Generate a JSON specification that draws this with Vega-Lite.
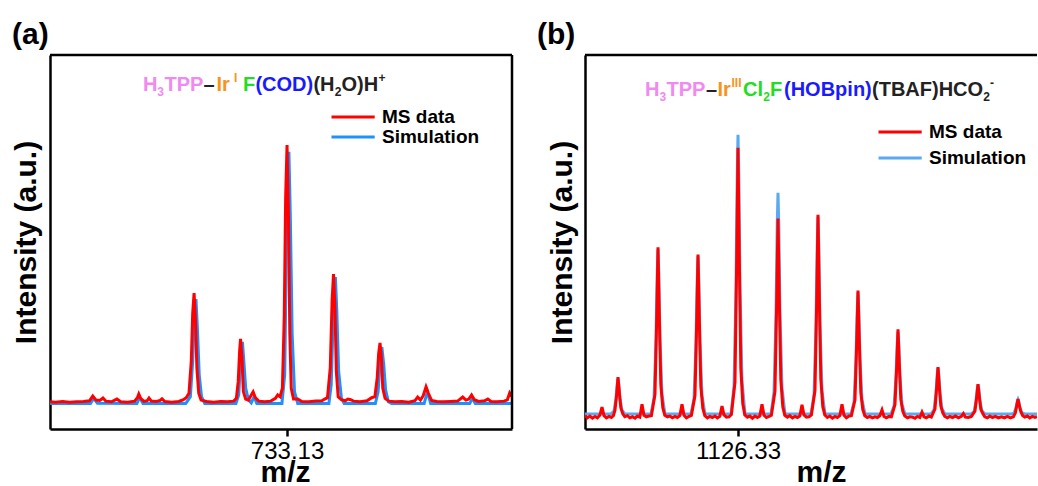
{
"$schema": "https://vega.github.io/schema/vega-lite/v6.json",
"background": "white",
"padding": {"left": 11, "top": 19, "right": 0, "bottom": 0},
"config": {
  "font": "Liberation Sans",
  "view": {"stroke": null},
  "axis": {"domainColor": "black", "domainWidth": 2.5, "grid": false, "tickColor": "black", "labelColor": "black", "titleColor": "black"}
},
"datasets": {
  "one": [{}],
  "a_ms": [
    {"mz":728.03,"intensity":0.0,"series":"MS data"},{"mz":728.15,"intensity":-0.1,"series":"MS data"},{"mz":728.30,"intensity":0.1,"series":"MS data"},{"mz":728.45,"intensity":-0.1,"series":"MS data"},{"mz":728.60,"intensity":0.0,"series":"MS data"},{"mz":728.75,"intensity":0.1,"series":"MS data"},{"mz":728.88,"intensity":0.3,"series":"MS data"},{"mz":728.95,"intensity":1.7,"series":"MS data"},{"mz":729.02,"intensity":0.5,"series":"MS data"},{"mz":729.10,"intensity":0.4,"series":"MS data"},{"mz":729.17,"intensity":1.1,"series":"MS data"},{"mz":729.23,"intensity":0.2,"series":"MS data"},{"mz":729.35,"intensity":0.0,"series":"MS data"},{"mz":729.47,"intensity":0.8,"series":"MS data"},{"mz":729.55,"intensity":0.0,"series":"MS data"},{"mz":729.70,"intensity":-0.1,"series":"MS data"},{"mz":729.85,"intensity":0.2,"series":"MS data"},{"mz":729.91,"intensity":1.2,"series":"MS data"},{"mz":729.94,"intensity":2.3,"series":"MS data"},{"mz":729.98,"intensity":1.0,"series":"MS data"},{"mz":730.05,"intensity":0.1,"series":"MS data"},{"mz":730.12,"intensity":0.3,"series":"MS data"},{"mz":730.16,"intensity":1.1,"series":"MS data"},{"mz":730.21,"intensity":0.2,"series":"MS data"},{"mz":730.32,"intensity":0.1,"series":"MS data"},{"mz":730.40,"intensity":0.4,"series":"MS data"},{"mz":730.44,"intensity":0.9,"series":"MS data"},{"mz":730.50,"intensity":0.1,"series":"MS data"},{"mz":730.65,"intensity":-0.1,"series":"MS data"},{"mz":730.80,"intensity":0.1,"series":"MS data"},{"mz":730.90,"intensity":0.6,"series":"MS data"},{"mz":730.96,"intensity":1.2,"series":"MS data"},{"mz":731.02,"intensity":2.5,"series":"MS data"},{"mz":731.07,"intensity":12,"series":"MS data"},{"mz":731.10,"intensity":26,"series":"MS data"},{"mz":731.13,"intensity":32,"series":"MS data"},{"mz":731.16,"intensity":24,"series":"MS data"},{"mz":731.19,"intensity":10,"series":"MS data"},{"mz":731.23,"intensity":2.5,"series":"MS data"},{"mz":731.28,"intensity":0.5,"series":"MS data"},{"mz":731.40,"intensity":0.1,"series":"MS data"},{"mz":731.55,"intensity":-0.1,"series":"MS data"},{"mz":731.70,"intensity":0.1,"series":"MS data"},{"mz":731.85,"intensity":0.0,"series":"MS data"},{"mz":731.98,"intensity":0.2,"series":"MS data"},{"mz":732.04,"intensity":1.0,"series":"MS data"},{"mz":732.08,"intensity":6,"series":"MS data"},{"mz":732.11,"intensity":15,"series":"MS data"},{"mz":732.13,"intensity":18.5,"series":"MS data"},{"mz":732.16,"intensity":13,"series":"MS data"},{"mz":732.19,"intensity":3,"series":"MS data"},{"mz":732.24,"intensity":0.8,"series":"MS data"},{"mz":732.30,"intensity":0.5,"series":"MS data"},{"mz":732.36,"intensity":2.0,"series":"MS data"},{"mz":732.40,"intensity":2.9,"series":"MS data"},{"mz":732.45,"intensity":1.2,"series":"MS data"},{"mz":732.52,"intensity":0.2,"series":"MS data"},{"mz":732.65,"intensity":0.0,"series":"MS data"},{"mz":732.78,"intensity":0.2,"series":"MS data"},{"mz":732.88,"intensity":1.0,"series":"MS data"},{"mz":732.93,"intensity":2.0,"series":"MS data"},{"mz":732.98,"intensity":1.5,"series":"MS data"},{"mz":733.03,"intensity":4,"series":"MS data"},{"mz":733.07,"intensity":25,"series":"MS data"},{"mz":733.10,"intensity":60,"series":"MS data"},{"mz":733.13,"intensity":75.5,"series":"MS data"},{"mz":733.16,"intensity":55,"series":"MS data"},{"mz":733.19,"intensity":20,"series":"MS data"},{"mz":733.22,"intensity":4,"series":"MS data"},{"mz":733.27,"intensity":0.8,"series":"MS data"},{"mz":733.36,"intensity":0.8,"series":"MS data"},{"mz":733.45,"intensity":0.1,"series":"MS data"},{"mz":733.60,"intensity":0.0,"series":"MS data"},{"mz":733.75,"intensity":0.2,"series":"MS data"},{"mz":733.88,"intensity":0.3,"series":"MS data"},{"mz":733.94,"intensity":0.8,"series":"MS data"},{"mz":734.00,"intensity":1.2,"series":"MS data"},{"mz":734.06,"intensity":10,"series":"MS data"},{"mz":734.10,"intensity":30,"series":"MS data"},{"mz":734.13,"intensity":37.6,"series":"MS data"},{"mz":734.16,"intensity":28,"series":"MS data"},{"mz":734.19,"intensity":9,"series":"MS data"},{"mz":734.23,"intensity":1.5,"series":"MS data"},{"mz":734.30,"intensity":0.6,"series":"MS data"},{"mz":734.38,"intensity":0.3,"series":"MS data"},{"mz":734.44,"intensity":0.8,"series":"MS data"},{"mz":734.50,"intensity":0.6,"series":"MS data"},{"mz":734.56,"intensity":0.2,"series":"MS data"},{"mz":734.70,"intensity":0.0,"series":"MS data"},{"mz":734.85,"intensity":0.3,"series":"MS data"},{"mz":734.95,"intensity":1.2,"series":"MS data"},{"mz":735.02,"intensity":1.5,"series":"MS data"},{"mz":735.07,"intensity":7,"series":"MS data"},{"mz":735.10,"intensity":14,"series":"MS data"},{"mz":735.13,"intensity":17.3,"series":"MS data"},{"mz":735.16,"intensity":13,"series":"MS data"},{"mz":735.19,"intensity":4,"series":"MS data"},{"mz":735.24,"intensity":1.0,"series":"MS data"},{"mz":735.32,"intensity":0.2,"series":"MS data"},{"mz":735.45,"intensity":0.0,"series":"MS data"},{"mz":735.60,"intensity":0.1,"series":"MS data"},{"mz":735.75,"intensity":-0.1,"series":"MS data"},{"mz":735.88,"intensity":0.3,"series":"MS data"},{"mz":735.94,"intensity":1.4,"series":"MS data"},{"mz":736.00,"intensity":0.5,"series":"MS data"},{"mz":736.06,"intensity":1.8,"series":"MS data"},{"mz":736.12,"intensity":4.4,"series":"MS data"},{"mz":736.17,"intensity":2.5,"series":"MS data"},{"mz":736.24,"intensity":0.4,"series":"MS data"},{"mz":736.35,"intensity":0.1,"series":"MS data"},{"mz":736.50,"intensity":0.0,"series":"MS data"},{"mz":736.65,"intensity":0.1,"series":"MS data"},{"mz":736.80,"intensity":0.2,"series":"MS data"},{"mz":736.91,"intensity":1.4,"series":"MS data"},{"mz":736.98,"intensity":0.5,"series":"MS data"},{"mz":737.04,"intensity":0.8,"series":"MS data"},{"mz":737.10,"intensity":2.0,"series":"MS data"},{"mz":737.16,"intensity":0.6,"series":"MS data"},{"mz":737.25,"intensity":0.1,"series":"MS data"},{"mz":737.38,"intensity":0.3,"series":"MS data"},{"mz":737.45,"intensity":0.8,"series":"MS data"},{"mz":737.52,"intensity":0.1,"series":"MS data"},{"mz":737.65,"intensity":0.0,"series":"MS data"},{"mz":737.80,"intensity":0.2,"series":"MS data"},{"mz":737.87,"intensity":0.6,"series":"MS data"},{"mz":737.92,"intensity":2.6,"series":"MS data"},{"mz":737.97,"intensity":1.5,"series":"MS data"}
  ],
  "a_sim": [
    {"mz":728.03,"intensity":-0.5,"series":"Simulation"},{"mz":728.90,"intensity":-0.5,"series":"Simulation"},{"mz":728.97,"intensity":1.0,"series":"Simulation"},{"mz":729.05,"intensity":-0.4,"series":"Simulation"},{"mz":729.90,"intensity":-0.5,"series":"Simulation"},{"mz":729.96,"intensity":1.3,"series":"Simulation"},{"mz":730.03,"intensity":-0.5,"series":"Simulation"},{"mz":730.95,"intensity":-0.5,"series":"Simulation"},{"mz":731.05,"intensity":1.5,"series":"Simulation"},{"mz":731.10,"intensity":12,"series":"Simulation"},{"mz":731.14,"intensity":26,"series":"Simulation"},{"mz":731.17,"intensity":30.2,"series":"Simulation"},{"mz":731.20,"intensity":22,"series":"Simulation"},{"mz":731.24,"intensity":8,"series":"Simulation"},{"mz":731.29,"intensity":1.5,"series":"Simulation"},{"mz":731.36,"intensity":-0.5,"series":"Simulation"},{"mz":732.03,"intensity":-0.5,"series":"Simulation"},{"mz":732.09,"intensity":2,"series":"Simulation"},{"mz":732.13,"intensity":12,"series":"Simulation"},{"mz":732.17,"intensity":17.6,"series":"Simulation"},{"mz":732.20,"intensity":12,"series":"Simulation"},{"mz":732.24,"intensity":4,"series":"Simulation"},{"mz":732.30,"intensity":0.5,"series":"Simulation"},{"mz":732.36,"intensity":-0.3,"series":"Simulation"},{"mz":732.42,"intensity":1.5,"series":"Simulation"},{"mz":732.48,"intensity":-0.5,"series":"Simulation"},{"mz":733.02,"intensity":-0.5,"series":"Simulation"},{"mz":733.08,"intensity":8,"series":"Simulation"},{"mz":733.12,"intensity":50,"series":"Simulation"},{"mz":733.15,"intensity":70,"series":"Simulation"},{"mz":733.17,"intensity":73.5,"series":"Simulation"},{"mz":733.20,"intensity":55,"series":"Simulation"},{"mz":733.24,"intensity":20,"series":"Simulation"},{"mz":733.29,"intensity":3,"series":"Simulation"},{"mz":733.36,"intensity":-0.5,"series":"Simulation"},{"mz":734.03,"intensity":-0.5,"series":"Simulation"},{"mz":734.08,"intensity":5,"series":"Simulation"},{"mz":734.13,"intensity":28,"series":"Simulation"},{"mz":734.17,"intensity":36.7,"series":"Simulation"},{"mz":734.20,"intensity":27,"series":"Simulation"},{"mz":734.24,"intensity":9,"series":"Simulation"},{"mz":734.30,"intensity":1,"series":"Simulation"},{"mz":734.36,"intensity":-0.5,"series":"Simulation"},{"mz":735.03,"intensity":-0.5,"series":"Simulation"},{"mz":735.09,"intensity":3,"series":"Simulation"},{"mz":735.14,"intensity":13,"series":"Simulation"},{"mz":735.17,"intensity":16.1,"series":"Simulation"},{"mz":735.21,"intensity":11,"series":"Simulation"},{"mz":735.25,"intensity":3.5,"series":"Simulation"},{"mz":735.31,"intensity":0,"series":"Simulation"},{"mz":735.38,"intensity":-0.5,"series":"Simulation"},{"mz":736.08,"intensity":-0.5,"series":"Simulation"},{"mz":736.15,"intensity":3.0,"series":"Simulation"},{"mz":736.22,"intensity":-0.5,"series":"Simulation"},{"mz":737.06,"intensity":-0.5,"series":"Simulation"},{"mz":737.12,"intensity":1.0,"series":"Simulation"},{"mz":737.18,"intensity":-0.5,"series":"Simulation"},{"mz":737.97,"intensity":-0.5,"series":"Simulation"}
  ],
  "b_ms": [
    {"mz":1118.68,"intensity":-0.3,"series":"MS data"},{"mz":1118.80,"intensity":-0.9,"series":"MS data"},{"mz":1118.92,"intensity":-0.4,"series":"MS data"},{"mz":1119.05,"intensity":-1.0,"series":"MS data"},{"mz":1119.18,"intensity":-0.5,"series":"MS data"},{"mz":1119.30,"intensity":-0.9,"series":"MS data"},{"mz":1119.42,"intensity":-0.2,"series":"MS data"},{"mz":1119.53,"intensity":2.1,"series":"MS data"},{"mz":1119.63,"intensity":-0.3,"series":"MS data"},{"mz":1119.75,"intensity":-0.9,"series":"MS data"},{"mz":1119.88,"intensity":-0.5,"series":"MS data"},{"mz":1120.00,"intensity":-0.8,"series":"MS data"},{"mz":1120.10,"intensity":-0.3,"series":"MS data"},{"mz":1120.18,"intensity":1.2,"series":"MS data"},{"mz":1120.27,"intensity":6.0,"series":"MS data"},{"mz":1120.33,"intensity":10.4,"series":"MS data"},{"mz":1120.39,"intensity":6.5,"series":"MS data"},{"mz":1120.47,"intensity":1.9,"series":"MS data"},{"mz":1120.57,"intensity":0.2,"series":"MS data"},{"mz":1120.67,"intensity":-0.6,"series":"MS data"},{"mz":1120.80,"intensity":-0.3,"series":"MS data"},{"mz":1120.92,"intensity":-0.9,"series":"MS data"},{"mz":1121.05,"intensity":-0.6,"series":"MS data"},{"mz":1121.18,"intensity":-1.0,"series":"MS data"},{"mz":1121.30,"intensity":-0.4,"series":"MS data"},{"mz":1121.42,"intensity":-0.7,"series":"MS data"},{"mz":1121.53,"intensity":2.9,"series":"MS data"},{"mz":1121.63,"intensity":-0.2,"series":"MS data"},{"mz":1121.75,"intensity":-0.6,"series":"MS data"},{"mz":1121.88,"intensity":-0.4,"series":"MS data"},{"mz":1122.00,"intensity":-0.3,"series":"MS data"},{"mz":1122.18,"intensity":5.6,"series":"MS data"},{"mz":1122.27,"intensity":28,"series":"MS data"},{"mz":1122.33,"intensity":46.5,"series":"MS data"},{"mz":1122.39,"intensity":29,"series":"MS data"},{"mz":1122.47,"intensity":8.4,"series":"MS data"},{"mz":1122.57,"intensity":1.9,"series":"MS data"},{"mz":1122.67,"intensity":-0.2,"series":"MS data"},{"mz":1122.80,"intensity":-0.6,"series":"MS data"},{"mz":1122.92,"intensity":-0.4,"series":"MS data"},{"mz":1123.05,"intensity":-0.9,"series":"MS data"},{"mz":1123.18,"intensity":-0.5,"series":"MS data"},{"mz":1123.30,"intensity":-0.8,"series":"MS data"},{"mz":1123.42,"intensity":-0.3,"series":"MS data"},{"mz":1123.53,"intensity":2.9,"series":"MS data"},{"mz":1123.63,"intensity":-0.2,"series":"MS data"},{"mz":1123.75,"intensity":-0.9,"series":"MS data"},{"mz":1123.88,"intensity":-0.5,"series":"MS data"},{"mz":1124.00,"intensity":-0.2,"series":"MS data"},{"mz":1124.18,"intensity":5.3,"series":"MS data"},{"mz":1124.27,"intensity":27,"series":"MS data"},{"mz":1124.33,"intensity":44.5,"series":"MS data"},{"mz":1124.39,"intensity":28,"series":"MS data"},{"mz":1124.47,"intensity":8,"series":"MS data"},{"mz":1124.57,"intensity":1.8,"series":"MS data"},{"mz":1124.67,"intensity":-0.3,"series":"MS data"},{"mz":1124.80,"intensity":-0.9,"series":"MS data"},{"mz":1124.92,"intensity":-0.5,"series":"MS data"},{"mz":1125.05,"intensity":-0.8,"series":"MS data"},{"mz":1125.18,"intensity":-0.4,"series":"MS data"},{"mz":1125.30,"intensity":-0.9,"series":"MS data"},{"mz":1125.42,"intensity":-0.5,"series":"MS data"},{"mz":1125.53,"intensity":2.4,"series":"MS data"},{"mz":1125.63,"intensity":-0.1,"series":"MS data"},{"mz":1125.75,"intensity":-0.7,"series":"MS data"},{"mz":1125.88,"intensity":-0.6,"series":"MS data"},{"mz":1126.00,"intensity":0.0,"series":"MS data"},{"mz":1126.18,"intensity":9,"series":"MS data"},{"mz":1126.27,"intensity":45,"series":"MS data"},{"mz":1126.33,"intensity":74.2,"series":"MS data"},{"mz":1126.39,"intensity":46,"series":"MS data"},{"mz":1126.47,"intensity":13,"series":"MS data"},{"mz":1126.57,"intensity":3,"series":"MS data"},{"mz":1126.67,"intensity":-0.1,"series":"MS data"},{"mz":1126.80,"intensity":-0.7,"series":"MS data"},{"mz":1126.92,"intensity":-0.4,"series":"MS data"},{"mz":1127.05,"intensity":-1.0,"series":"MS data"},{"mz":1127.18,"intensity":-0.4,"series":"MS data"},{"mz":1127.30,"intensity":-0.8,"series":"MS data"},{"mz":1127.42,"intensity":-0.4,"series":"MS data"},{"mz":1127.53,"intensity":2.9,"series":"MS data"},{"mz":1127.63,"intensity":-0.2,"series":"MS data"},{"mz":1127.75,"intensity":-0.8,"series":"MS data"},{"mz":1127.88,"intensity":-0.5,"series":"MS data"},{"mz":1128.00,"intensity":-0.2,"series":"MS data"},{"mz":1128.18,"intensity":6.5,"series":"MS data"},{"mz":1128.27,"intensity":33,"series":"MS data"},{"mz":1128.33,"intensity":54.5,"series":"MS data"},{"mz":1128.39,"intensity":34,"series":"MS data"},{"mz":1128.47,"intensity":9.8,"series":"MS data"},{"mz":1128.57,"intensity":2.2,"series":"MS data"},{"mz":1128.67,"intensity":-0.2,"series":"MS data"},{"mz":1128.80,"intensity":-0.7,"series":"MS data"},{"mz":1128.92,"intensity":-0.3,"series":"MS data"},{"mz":1129.05,"intensity":-0.9,"series":"MS data"},{"mz":1129.18,"intensity":-0.5,"series":"MS data"},{"mz":1129.30,"intensity":-0.8,"series":"MS data"},{"mz":1129.42,"intensity":-0.4,"series":"MS data"},{"mz":1129.53,"intensity":2.7,"series":"MS data"},{"mz":1129.63,"intensity":-0.1,"series":"MS data"},{"mz":1129.75,"intensity":-0.7,"series":"MS data"},{"mz":1129.88,"intensity":-0.6,"series":"MS data"},{"mz":1130.00,"intensity":-0.1,"series":"MS data"},{"mz":1130.18,"intensity":6.7,"series":"MS data"},{"mz":1130.27,"intensity":33,"series":"MS data"},{"mz":1130.33,"intensity":55.6,"series":"MS data"},{"mz":1130.39,"intensity":34.5,"series":"MS data"},{"mz":1130.47,"intensity":10,"series":"MS data"},{"mz":1130.57,"intensity":2.2,"series":"MS data"},{"mz":1130.67,"intensity":-0.1,"series":"MS data"},{"mz":1130.80,"intensity":-0.8,"series":"MS data"},{"mz":1130.92,"intensity":-0.4,"series":"MS data"},{"mz":1131.05,"intensity":-1.0,"series":"MS data"},{"mz":1131.18,"intensity":-0.5,"series":"MS data"},{"mz":1131.30,"intensity":-0.8,"series":"MS data"},{"mz":1131.42,"intensity":-0.3,"series":"MS data"},{"mz":1131.53,"intensity":2.9,"series":"MS data"},{"mz":1131.63,"intensity":-0.2,"series":"MS data"},{"mz":1131.75,"intensity":-0.9,"series":"MS data"},{"mz":1131.88,"intensity":-0.4,"series":"MS data"},{"mz":1132.00,"intensity":-0.3,"series":"MS data"},{"mz":1132.18,"intensity":4.1,"series":"MS data"},{"mz":1132.27,"intensity":21,"series":"MS data"},{"mz":1132.33,"intensity":34.5,"series":"MS data"},{"mz":1132.39,"intensity":21.4,"series":"MS data"},{"mz":1132.47,"intensity":6.2,"series":"MS data"},{"mz":1132.57,"intensity":1.4,"series":"MS data"},{"mz":1132.67,"intensity":-0.3,"series":"MS data"},{"mz":1132.80,"intensity":-0.8,"series":"MS data"},{"mz":1132.92,"intensity":-0.5,"series":"MS data"},{"mz":1133.05,"intensity":-0.9,"series":"MS data"},{"mz":1133.18,"intensity":-0.6,"series":"MS data"},{"mz":1133.30,"intensity":-0.8,"series":"MS data"},{"mz":1133.42,"intensity":-0.3,"series":"MS data"},{"mz":1133.53,"intensity":1.3,"series":"MS data"},{"mz":1133.63,"intensity":-0.5,"series":"MS data"},{"mz":1133.75,"intensity":-0.9,"series":"MS data"},{"mz":1133.88,"intensity":-0.5,"series":"MS data"},{"mz":1134.00,"intensity":-0.6,"series":"MS data"},{"mz":1134.18,"intensity":2.8,"series":"MS data"},{"mz":1134.27,"intensity":14,"series":"MS data"},{"mz":1134.33,"intensity":23.7,"series":"MS data"},{"mz":1134.39,"intensity":14.7,"series":"MS data"},{"mz":1134.47,"intensity":4.3,"series":"MS data"},{"mz":1134.57,"intensity":0.9,"series":"MS data"},{"mz":1134.67,"intensity":-0.4,"series":"MS data"},{"mz":1134.80,"intensity":-0.9,"series":"MS data"},{"mz":1134.92,"intensity":-0.6,"series":"MS data"},{"mz":1135.05,"intensity":-0.7,"series":"MS data"},{"mz":1135.18,"intensity":-1.0,"series":"MS data"},{"mz":1135.30,"intensity":-0.5,"series":"MS data"},{"mz":1135.42,"intensity":-0.8,"series":"MS data"},{"mz":1135.53,"intensity":0.7,"series":"MS data"},{"mz":1135.63,"intensity":-0.6,"series":"MS data"},{"mz":1135.75,"intensity":-0.9,"series":"MS data"},{"mz":1135.88,"intensity":-0.4,"series":"MS data"},{"mz":1136.00,"intensity":-0.7,"series":"MS data"},{"mz":1136.18,"intensity":1.6,"series":"MS data"},{"mz":1136.27,"intensity":8,"series":"MS data"},{"mz":1136.33,"intensity":13.2,"series":"MS data"},{"mz":1136.39,"intensity":8.2,"series":"MS data"},{"mz":1136.47,"intensity":2.4,"series":"MS data"},{"mz":1136.57,"intensity":0.5,"series":"MS data"},{"mz":1136.67,"intensity":-0.5,"series":"MS data"},{"mz":1136.80,"intensity":-0.9,"series":"MS data"},{"mz":1136.92,"intensity":-0.5,"series":"MS data"},{"mz":1137.05,"intensity":-0.8,"series":"MS data"},{"mz":1137.20,"intensity":-0.4,"series":"MS data"},{"mz":1137.35,"intensity":-0.9,"series":"MS data"},{"mz":1137.50,"intensity":-0.5,"series":"MS data"},{"mz":1137.60,"intensity":0.3,"series":"MS data"},{"mz":1137.70,"intensity":-0.7,"series":"MS data"},{"mz":1137.85,"intensity":-0.8,"series":"MS data"},{"mz":1138.00,"intensity":-0.5,"series":"MS data"},{"mz":1138.18,"intensity":1.0,"series":"MS data"},{"mz":1138.27,"intensity":5.1,"series":"MS data"},{"mz":1138.33,"intensity":8.5,"series":"MS data"},{"mz":1138.39,"intensity":5.3,"series":"MS data"},{"mz":1138.47,"intensity":1.5,"series":"MS data"},{"mz":1138.57,"intensity":0.3,"series":"MS data"},{"mz":1138.67,"intensity":-0.6,"series":"MS data"},{"mz":1138.80,"intensity":-0.9,"series":"MS data"},{"mz":1138.92,"intensity":-0.4,"series":"MS data"},{"mz":1139.05,"intensity":-0.8,"series":"MS data"},{"mz":1139.20,"intensity":-0.5,"series":"MS data"},{"mz":1139.35,"intensity":-0.9,"series":"MS data"},{"mz":1139.50,"intensity":-0.6,"series":"MS data"},{"mz":1139.65,"intensity":-0.9,"series":"MS data"},{"mz":1139.80,"intensity":-0.5,"series":"MS data"},{"mz":1139.95,"intensity":-0.9,"series":"MS data"},{"mz":1140.10,"intensity":-0.6,"series":"MS data"},{"mz":1140.20,"intensity":0.5,"series":"MS data"},{"mz":1140.27,"intensity":2.6,"series":"MS data"},{"mz":1140.33,"intensity":4.3,"series":"MS data"},{"mz":1140.39,"intensity":2.7,"series":"MS data"},{"mz":1140.47,"intensity":0.8,"series":"MS data"},{"mz":1140.57,"intensity":-0.3,"series":"MS data"},{"mz":1140.67,"intensity":-0.7,"series":"MS data"},{"mz":1140.80,"intensity":-0.4,"series":"MS data"},{"mz":1140.92,"intensity":-0.9,"series":"MS data"},{"mz":1141.05,"intensity":-0.5,"series":"MS data"},{"mz":1141.18,"intensity":-0.8,"series":"MS data"},{"mz":1141.28,"intensity":-0.6,"series":"MS data"}
  ],
  "b_sim": [
    {"mz":1118.68,"intensity":0.2,"series":"Simulation"},
    {"mz":1119.98,"intensity":0.2,"series":"Simulation"},{"mz":1120.13,"intensity":1.0,"series":"Simulation"},{"mz":1120.23,"intensity":4.5,"series":"Simulation"},{"mz":1120.29,"intensity":8.5,"series":"Simulation"},{"mz":1120.33,"intensity":10,"series":"Simulation"},{"mz":1120.37,"intensity":8.5,"series":"Simulation"},{"mz":1120.43,"intensity":4.5,"series":"Simulation"},{"mz":1120.53,"intensity":1.2,"series":"Simulation"},{"mz":1120.68,"intensity":0.2,"series":"Simulation"},
    {"mz":1121.98,"intensity":0.2,"series":"Simulation"},{"mz":1122.13,"intensity":4.6,"series":"Simulation"},{"mz":1122.23,"intensity":20.7,"series":"Simulation"},{"mz":1122.29,"intensity":39.1,"series":"Simulation"},{"mz":1122.33,"intensity":46,"series":"Simulation"},{"mz":1122.37,"intensity":39.1,"series":"Simulation"},{"mz":1122.43,"intensity":20.7,"series":"Simulation"},{"mz":1122.53,"intensity":5.5,"series":"Simulation"},{"mz":1122.68,"intensity":0.2,"series":"Simulation"},
    {"mz":1123.98,"intensity":0.2,"series":"Simulation"},{"mz":1124.13,"intensity":4.4,"series":"Simulation"},{"mz":1124.23,"intensity":19.8,"series":"Simulation"},{"mz":1124.29,"intensity":37.4,"series":"Simulation"},{"mz":1124.33,"intensity":44,"series":"Simulation"},{"mz":1124.37,"intensity":37.4,"series":"Simulation"},{"mz":1124.43,"intensity":19.8,"series":"Simulation"},{"mz":1124.53,"intensity":5.3,"series":"Simulation"},{"mz":1124.68,"intensity":0.2,"series":"Simulation"},
    {"mz":1125.98,"intensity":0.2,"series":"Simulation"},{"mz":1126.13,"intensity":7.8,"series":"Simulation"},{"mz":1126.23,"intensity":35,"series":"Simulation"},{"mz":1126.29,"intensity":66.1,"series":"Simulation"},{"mz":1126.33,"intensity":77.8,"series":"Simulation"},{"mz":1126.37,"intensity":66.1,"series":"Simulation"},{"mz":1126.43,"intensity":35,"series":"Simulation"},{"mz":1126.53,"intensity":9.3,"series":"Simulation"},{"mz":1126.68,"intensity":0.2,"series":"Simulation"},
    {"mz":1127.98,"intensity":0.2,"series":"Simulation"},{"mz":1128.13,"intensity":6.2,"series":"Simulation"},{"mz":1128.23,"intensity":27.8,"series":"Simulation"},{"mz":1128.29,"intensity":52.4,"series":"Simulation"},{"mz":1128.33,"intensity":61.7,"series":"Simulation"},{"mz":1128.37,"intensity":52.4,"series":"Simulation"},{"mz":1128.43,"intensity":27.8,"series":"Simulation"},{"mz":1128.53,"intensity":7.4,"series":"Simulation"},{"mz":1128.68,"intensity":0.2,"series":"Simulation"},
    {"mz":1129.98,"intensity":0.2,"series":"Simulation"},{"mz":1130.13,"intensity":5.5,"series":"Simulation"},{"mz":1130.23,"intensity":24.8,"series":"Simulation"},{"mz":1130.29,"intensity":46.8,"series":"Simulation"},{"mz":1130.33,"intensity":55,"series":"Simulation"},{"mz":1130.37,"intensity":46.8,"series":"Simulation"},{"mz":1130.43,"intensity":24.8,"series":"Simulation"},{"mz":1130.53,"intensity":6.6,"series":"Simulation"},{"mz":1130.68,"intensity":0.2,"series":"Simulation"},
    {"mz":1131.98,"intensity":0.2,"series":"Simulation"},{"mz":1132.13,"intensity":3.4,"series":"Simulation"},{"mz":1132.23,"intensity":15.3,"series":"Simulation"},{"mz":1132.29,"intensity":28.9,"series":"Simulation"},{"mz":1132.33,"intensity":34,"series":"Simulation"},{"mz":1132.37,"intensity":28.9,"series":"Simulation"},{"mz":1132.43,"intensity":15.3,"series":"Simulation"},{"mz":1132.53,"intensity":4.1,"series":"Simulation"},{"mz":1132.68,"intensity":0.2,"series":"Simulation"},
    {"mz":1133.98,"intensity":0.2,"series":"Simulation"},{"mz":1134.13,"intensity":2.3,"series":"Simulation"},{"mz":1134.23,"intensity":10.4,"series":"Simulation"},{"mz":1134.29,"intensity":19.6,"series":"Simulation"},{"mz":1134.33,"intensity":23,"series":"Simulation"},{"mz":1134.37,"intensity":19.6,"series":"Simulation"},{"mz":1134.43,"intensity":10.4,"series":"Simulation"},{"mz":1134.53,"intensity":2.8,"series":"Simulation"},{"mz":1134.68,"intensity":0.2,"series":"Simulation"},
    {"mz":1135.98,"intensity":0.2,"series":"Simulation"},{"mz":1136.13,"intensity":1.3,"series":"Simulation"},{"mz":1136.23,"intensity":5.9,"series":"Simulation"},{"mz":1136.29,"intensity":11.1,"series":"Simulation"},{"mz":1136.33,"intensity":13,"series":"Simulation"},{"mz":1136.37,"intensity":11.1,"series":"Simulation"},{"mz":1136.43,"intensity":5.9,"series":"Simulation"},{"mz":1136.53,"intensity":1.6,"series":"Simulation"},{"mz":1136.68,"intensity":0.2,"series":"Simulation"},
    {"mz":1137.98,"intensity":0.2,"series":"Simulation"},{"mz":1138.13,"intensity":0.8,"series":"Simulation"},{"mz":1138.23,"intensity":3.7,"series":"Simulation"},{"mz":1138.29,"intensity":7.1,"series":"Simulation"},{"mz":1138.33,"intensity":8.3,"series":"Simulation"},{"mz":1138.37,"intensity":7.1,"series":"Simulation"},{"mz":1138.43,"intensity":3.7,"series":"Simulation"},{"mz":1138.53,"intensity":1.0,"series":"Simulation"},{"mz":1138.68,"intensity":0.2,"series":"Simulation"},
    {"mz":1139.98,"intensity":0.2,"series":"Simulation"},{"mz":1140.13,"intensity":0.4,"series":"Simulation"},{"mz":1140.23,"intensity":1.9,"series":"Simulation"},{"mz":1140.29,"intensity":3.6,"series":"Simulation"},{"mz":1140.33,"intensity":4.2,"series":"Simulation"},{"mz":1140.37,"intensity":3.6,"series":"Simulation"},{"mz":1140.43,"intensity":1.9,"series":"Simulation"},{"mz":1140.53,"intensity":0.5,"series":"Simulation"},{"mz":1140.68,"intensity":0.2,"series":"Simulation"},
    {"mz":1141.28,"intensity":0.2,"series":"Simulation"}
  ]
},
"spacing": 73,
"bounds": "flush",
"resolve": {"scale": {"x": "independent", "y": "independent", "color": "independent"}, "legend": {"color": "independent"}},
"hconcat": [
  {
    "width": 462, "height": 374,
    "title": {"text": "(a)", "anchor": "start", "frame": "group", "dx": -38, "offset": -20, "fontSize": 30, "fontWeight": "bold", "baseline": "alphabetic", "color": "black"},
    "layer": [
      {"data": {"name": "a_sim"}, "mark": {"type": "line", "strokeWidth": 3, "clip": true},
       "encoding": {
         "x": {"field": "mz", "type": "quantitative", "scale": {"domain": [728.03, 737.97], "nice": false, "zero": false},
               "axis": {"values": [733.13], "format": ".2f", "title": "m/z", "titleFontSize": 30, "titleFontWeight": "bold", "titleBaseline": "alphabetic", "titleY": 52, "titleX": 235, "labelFontSize": 24, "labelFontWeight": "normal", "labelPadding": 3, "tickSize": 7, "tickWidth": 2.5, "labelFlush": false, "domainWidth": 2.5}},
         "y": {"field": "intensity", "type": "quantitative", "scale": {"domain": [-8, 102], "nice": false, "zero": false},
               "axis": {"title": "Intensity (a.u.)", "titleFontSize": 30, "titleFontWeight": "bold", "titlePadding": 9, "ticks": false, "labels": false, "domainWidth": 2.5}},
         "color": {"field": "series", "type": "nominal", "scale": {"domain": ["MS data", "Simulation"], "range": ["#ff0000", "#1e90ff"]},
               "legend": {"title": null, "orient": "none", "legendX": 293.6, "legendY": 52.5, "symbolType": "M-2.7,0H2.7", "symbolSize": 256, "symbolStrokeWidth": 3, "labelFontSize": 19, "labelFontWeight": "bold", "labelColor": "black", "labelOffset": 19.4, "rowPadding": -1, "padding": 0}}
       }},
      {"data": {"name": "a_ms"}, "mark": {"type": "line", "strokeWidth": 3, "clip": true},
       "encoding": {
         "x": {"field": "mz", "type": "quantitative"},
         "y": {"field": "intensity", "type": "quantitative"},
         "color": {"field": "series", "type": "nominal"}
       }},
      {"data": {"name": "one"}, "mark": {"type": "rule", "strokeWidth": 2.5, "color": "black"}, "encoding": {"y": {"datum": 102}}},
      {"data": {"name": "one"}, "mark": {"type": "rule", "strokeWidth": 2.5, "color": "black"}, "encoding": {"x": {"datum": 737.97}}},
      {"data": {"name": "one"}, "mark": {"type": "text", "align": "left", "baseline": "alphabetic", "fontSize": 20, "fontWeight": "bold", "color": "#f08af0"}, "encoding": {"x": {"datum": 730.03}, "y": {"datum": 91.41}, "text": {"value": "H"}}},
      {"data": {"name": "one"}, "mark": {"type": "text", "align": "left", "baseline": "alphabetic", "fontSize": 12, "fontWeight": "bold", "color": "#f08af0"}, "encoding": {"x": {"datum": 730.34}, "y": {"datum": 89.94}, "text": {"value": "3"}}},
      {"data": {"name": "one"}, "mark": {"type": "text", "align": "left", "baseline": "alphabetic", "fontSize": 20, "fontWeight": "bold", "color": "#f08af0"}, "encoding": {"x": {"datum": 730.492}, "y": {"datum": 91.41}, "text": {"value": "TPP"}}},
      {"data": {"name": "one"}, "mark": {"type": "text", "align": "left", "baseline": "alphabetic", "fontSize": 20, "fontWeight": "bold", "color": "#222222"}, "encoding": {"x": {"datum": 731.331}, "y": {"datum": 91.41}, "text": {"value": "–"}}},
      {"data": {"name": "one"}, "mark": {"type": "text", "align": "left", "baseline": "alphabetic", "fontSize": 20, "fontWeight": "bold", "color": "#f7941d"}, "encoding": {"x": {"datum": 731.611}, "y": {"datum": 91.41}, "text": {"value": "Ir"}}},
      {"data": {"name": "one"}, "mark": {"type": "text", "align": "left", "baseline": "alphabetic", "fontSize": 12, "fontWeight": "bold", "color": "#f7941d"}, "encoding": {"x": {"datum": 731.987}, "y": {"datum": 94.06}, "text": {"value": "I"}}},
      {"data": {"name": "one"}, "mark": {"type": "text", "align": "left", "baseline": "alphabetic", "fontSize": 20, "fontWeight": "bold", "color": "#22dd22"}, "encoding": {"x": {"datum": 732.181}, "y": {"datum": 91.41}, "text": {"value": "F"}}},
      {"data": {"name": "one"}, "mark": {"type": "text", "align": "left", "baseline": "alphabetic", "fontSize": 20, "fontWeight": "bold", "color": "#1a1aff"}, "encoding": {"x": {"datum": 732.449}, "y": {"datum": 91.41}, "text": {"value": "(COD)"}}},
      {"data": {"name": "one"}, "mark": {"type": "text", "align": "left", "baseline": "alphabetic", "fontSize": 20, "fontWeight": "bold", "color": "#222222"}, "encoding": {"x": {"datum": 733.697}, "y": {"datum": 91.41}, "text": {"value": "(H"}}},
      {"data": {"name": "one"}, "mark": {"type": "text", "align": "left", "baseline": "alphabetic", "fontSize": 12, "fontWeight": "bold", "color": "#222222"}, "encoding": {"x": {"datum": 734.155}, "y": {"datum": 89.94}, "text": {"value": "2"}}},
      {"data": {"name": "one"}, "mark": {"type": "text", "align": "left", "baseline": "alphabetic", "fontSize": 20, "fontWeight": "bold", "color": "#222222"}, "encoding": {"x": {"datum": 734.303}, "y": {"datum": 91.41}, "text": {"value": "O)H"}}},
      {"data": {"name": "one"}, "mark": {"type": "text", "align": "left", "baseline": "alphabetic", "fontSize": 12, "fontWeight": "bold", "color": "#222222"}, "encoding": {"x": {"datum": 735.097}, "y": {"datum": 94.06}, "text": {"value": "+"}}}
    ]
  },
  {
    "width": 452, "height": 374,
    "title": {"text": "(b)", "anchor": "start", "frame": "group", "dx": -48, "offset": -20, "fontSize": 30, "fontWeight": "bold", "baseline": "alphabetic", "color": "black"},
    "layer": [
      {"data": {"name": "b_sim"}, "mark": {"type": "line", "strokeWidth": 3, "clip": true},
       "encoding": {
         "x": {"field": "mz", "type": "quantitative", "scale": {"domain": [1118.68, 1141.28], "nice": false, "zero": false},
               "axis": {"values": [1126.33], "format": ".2f", "title": "m/z", "titleFontSize": 30, "titleFontWeight": "bold", "titleBaseline": "alphabetic", "titleY": 52, "titleX": 236, "labelFontSize": 24, "labelFontWeight": "normal", "labelPadding": 3, "tickSize": 7, "tickWidth": 2.5, "labelFlush": false, "domainWidth": 2.5}},
         "y": {"field": "intensity", "type": "quantitative", "scale": {"domain": [-4, 100], "nice": false, "zero": false},
               "axis": {"title": "Intensity (a.u.)", "titleFontSize": 30, "titleFontWeight": "bold", "titlePadding": 8, "ticks": false, "labels": false, "domainWidth": 2.5}},
         "color": {"field": "series", "type": "nominal", "scale": {"domain": ["MS data", "Simulation"], "range": ["#ff0000", "#5aaaf2"]},
               "legend": {"title": null, "orient": "none", "legendX": 305.6, "legendY": 67.5, "symbolType": "M-2.7,0H2.7", "symbolSize": 256, "symbolStrokeWidth": 3, "labelFontSize": 19, "labelFontWeight": "bold", "labelColor": "black", "labelOffset": 19.4, "rowPadding": 6, "padding": 0}}
       }},
      {"data": {"name": "b_ms"}, "mark": {"type": "line", "strokeWidth": 3, "clip": true},
       "encoding": {
         "x": {"field": "mz", "type": "quantitative"},
         "y": {"field": "intensity", "type": "quantitative"},
         "color": {"field": "series", "type": "nominal"}
       }},
      {"data": {"name": "one"}, "mark": {"type": "rule", "strokeWidth": 2.5, "color": "black"}, "encoding": {"y": {"datum": 100}}},
      {"data": {"name": "one"}, "mark": {"type": "text", "align": "left", "baseline": "alphabetic", "fontSize": 20, "fontWeight": "bold", "color": "#f08af0"}, "encoding": {"x": {"datum": 1121.68}, "y": {"datum": 88.6}, "text": {"value": "H"}}},
      {"data": {"name": "one"}, "mark": {"type": "text", "align": "left", "baseline": "alphabetic", "fontSize": 12, "fontWeight": "bold", "color": "#f08af0"}, "encoding": {"x": {"datum": 1122.41}, "y": {"datum": 87.2}, "text": {"value": "3"}}},
      {"data": {"name": "one"}, "mark": {"type": "text", "align": "left", "baseline": "alphabetic", "fontSize": 20, "fontWeight": "bold", "color": "#f08af0"}, "encoding": {"x": {"datum": 1122.755}, "y": {"datum": 88.6}, "text": {"value": "TPP"}}},
      {"data": {"name": "one"}, "mark": {"type": "text", "align": "left", "baseline": "alphabetic", "fontSize": 20, "fontWeight": "bold", "color": "#222222"}, "encoding": {"x": {"datum": 1124.73}, "y": {"datum": 88.6}, "text": {"value": "–"}}},
      {"data": {"name": "one"}, "mark": {"type": "text", "align": "left", "baseline": "alphabetic", "fontSize": 20, "fontWeight": "bold", "color": "#f7941d"}, "encoding": {"x": {"datum": 1125.305}, "y": {"datum": 88.6}, "text": {"value": "Ir"}}},
      {"data": {"name": "one"}, "mark": {"type": "text", "align": "left", "baseline": "alphabetic", "fontSize": 12, "fontWeight": "bold", "color": "#f7941d"}, "encoding": {"x": {"datum": 1126.005}, "y": {"datum": 91.1}, "text": {"value": "III"}}},
      {"data": {"name": "one"}, "mark": {"type": "text", "align": "left", "baseline": "alphabetic", "fontSize": 20, "fontWeight": "bold", "color": "#22dd22"}, "encoding": {"x": {"datum": 1126.58}, "y": {"datum": 88.6}, "text": {"value": "Cl"}}},
      {"data": {"name": "one"}, "mark": {"type": "text", "align": "left", "baseline": "alphabetic", "fontSize": 12, "fontWeight": "bold", "color": "#22dd22"}, "encoding": {"x": {"datum": 1127.59}, "y": {"datum": 87.2}, "text": {"value": "2"}}},
      {"data": {"name": "one"}, "mark": {"type": "text", "align": "left", "baseline": "alphabetic", "fontSize": 20, "fontWeight": "bold", "color": "#22dd22"}, "encoding": {"x": {"datum": 1127.93}, "y": {"datum": 88.6}, "text": {"value": "F"}}},
      {"data": {"name": "one"}, "mark": {"type": "text", "align": "left", "baseline": "alphabetic", "fontSize": 20, "fontWeight": "bold", "color": "#1a1aff"}, "encoding": {"x": {"datum": 1128.63}, "y": {"datum": 88.6}, "text": {"value": "(HOBpin)"}}},
      {"data": {"name": "one"}, "mark": {"type": "text", "align": "left", "baseline": "alphabetic", "fontSize": 20, "fontWeight": "bold", "color": "#222222"}, "encoding": {"x": {"datum": 1133.03}, "y": {"datum": 88.6}, "text": {"value": "(TBAF)HCO"}}},
      {"data": {"name": "one"}, "mark": {"type": "text", "align": "left", "baseline": "alphabetic", "fontSize": 12, "fontWeight": "bold", "color": "#222222"}, "encoding": {"x": {"datum": 1138.59}, "y": {"datum": 87.2}, "text": {"value": "2"}}},
      {"data": {"name": "one"}, "mark": {"type": "text", "align": "left", "baseline": "alphabetic", "fontSize": 12, "fontWeight": "bold", "color": "#222222"}, "encoding": {"x": {"datum": 1138.93}, "y": {"datum": 91.1}, "text": {"value": "-"}}}
    ]
  }
]
}
